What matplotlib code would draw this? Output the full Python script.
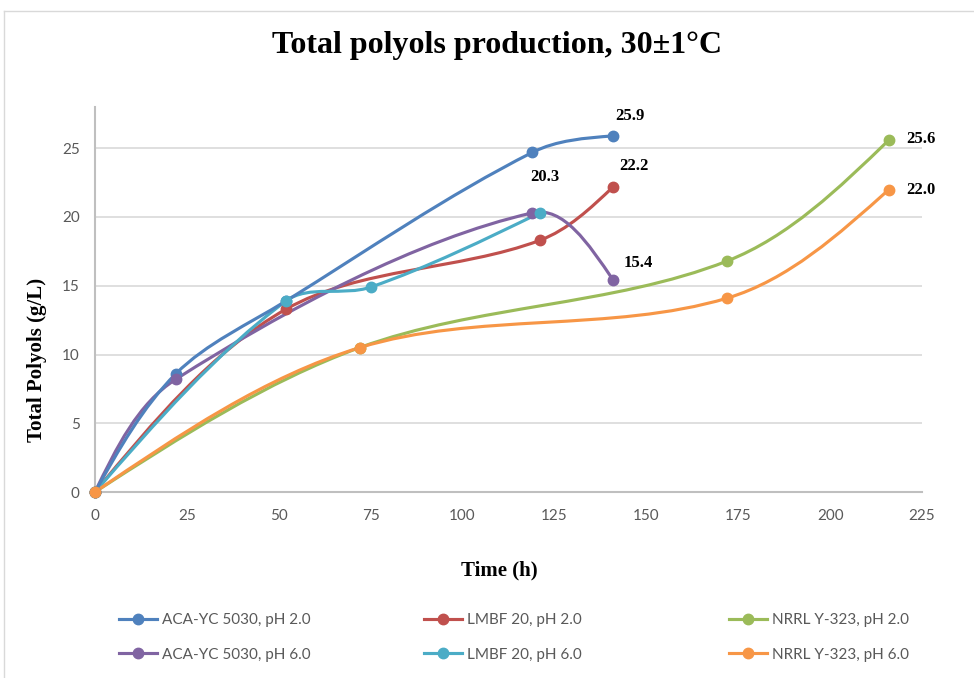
import numpy as np
import matplotlib.pyplot as plt
from matplotlib.path import Path
from matplotlib.patches import PathPatch
from matplotlib.lines import Line2D

# time (h) and total polyols (g/L) per culture
names = ['ACA-YC 5030, pH 2.0', 'LMBF 20, pH 2.0', 'NRRL Y-323, pH 2.0',
         'ACA-YC 5030, pH 6.0', 'LMBF 20, pH 6.0', 'NRRL Y-323, pH 6.0']
colors = ['#4F81BD', '#C0504D', '#9BBB59', '#8064A2', '#4BACC6', '#F79646']

aca2_t = [0, 22, 52, 119, 141]
aca2_y = [0, 8.6, 13.9, 24.7, 25.9]
lmbf2_t = [0, 52, 121, 141]
lmbf2_y = [0, 13.3, 18.3, 22.2]
nrrl2_t = [0, 72, 172, 216]
nrrl2_y = [0, 10.5, 16.8, 25.6]
aca6_t = [0, 22, 119, 141]
aca6_y = [0, 8.2, 20.3, 15.4]
lmbf6_t = [0, 52, 75, 121]
lmbf6_y = [0, 13.9, 14.9, 20.3]
nrrl6_t = [0, 72, 172, 216]
nrrl6_y = [0, 10.5, 14.1, 22.0]

series = [(aca2_t, aca2_y), (lmbf2_t, lmbf2_y), (nrrl2_t, nrrl2_y),
          (aca6_t, aca6_y), (lmbf6_t, lmbf6_y), (nrrl6_t, nrrl6_y)]

# which point gets a value label: (series index, point index, offset in px)
labels = [(0, 4, (2, 20)), (1, 3, (6, 21)), (3, 2, (-2, 36)),
          (3, 3, (10, 17)), (2, 3, (17, 1)), (5, 3, (17, 0))]

fig = plt.figure(figsize=(9.74, 6.78), dpi=100)
ax = fig.add_axes([95 / 974, 1 - 492 / 678, 827 / 974, 385 / 678])
ax.set_xlim(0, 225)
ax.set_ylim(0, 28)
ax.set_xticks(np.arange(0, 226, 25))
ax.set_yticks(np.arange(0, 26, 5))
ax.grid(axis='y', color='#D9D9D9', lw=1.2)
ax.set_axisbelow(True)
for s in ['top', 'right']:
    ax.spines[s].set_visible(False)
for s in ['left', 'bottom']:
    ax.spines[s].set_color('#BFBFBF')
    ax.spines[s].set_linewidth(1.5)
ax.tick_params(length=0, labelsize=11, labelcolor='#595959')
ax.tick_params(axis='y', pad=11)
ax.tick_params(axis='x', pad=12)
for lab in ax.get_xticklabels() + ax.get_yticklabels():
    lab.set_fontfamily('Lato')


def smooth_path(t, y):
    # Excel-like smoothed line: bezier segments built in screen space
    P = ax.transData.transform(np.column_stack([t, y]))
    n = len(P)
    d = np.linalg.norm(np.diff(P, axis=0), axis=1)
    arm_in = [None] * n
    arm_out = [None] * n
    for i in range(1, n - 1):
        T = P[i + 1] - P[i - 1]
        arm_out[i] = T * d[i] / (d[i - 1] + d[i]) / 3
        arm_in[i] = T * d[i - 1] / (d[i - 1] + d[i]) / 3
    verts = [P[0]]
    codes = [Path.MOVETO]
    for i in range(n - 1):
        c2 = P[i + 1] - arm_in[i + 1] if arm_in[i + 1] is not None else None
        c1 = P[i] + arm_out[i] if arm_out[i] is not None else None
        if c1 is None and c2 is None:
            c1 = P[i] + (P[i + 1] - P[i]) / 3
            c2 = P[i] + 2 * (P[i + 1] - P[i]) / 3
        elif c1 is None:
            c1 = P[i] + (c2 - P[i]) / 2
        elif c2 is None:
            c2 = P[i + 1] + (c1 - P[i + 1]) / 2
        verts += [c1, c2, P[i + 1]]
        codes += [Path.CURVE4] * 3
    verts = ax.transData.inverted().transform(np.array(verts))
    return Path(verts, codes)


for k, ((t, y), c) in enumerate(zip(series, colors)):
    zl = 3.9 if k == 0 else 3 + k * 0.1
    ax.add_patch(PathPatch(smooth_path(t, y), fill=False, edgecolor=c,
                           lw=2.25, capstyle='round', joinstyle='round', zorder=zl))
    ax.plot(t, y, 'o', color=c, ms=7.5, zorder=4 + k * 0.1, clip_on=False)

for si, pi, (dx, dy) in labels:
    t, y = series[si]
    ax.annotate('%.1f' % y[pi], (t[pi], y[pi]), xytext=(dx * 0.72, dy * 0.72),
                textcoords='offset points', ha='left', va='center',
                fontsize=12, fontweight='bold', family='Liberation Serif')

fig.text(497 / 974, 1 - 45 / 678, 'Total polyols production, 30±1°C',
         ha='center', va='center', fontsize=23, fontweight='bold',
         family='Liberation Serif')
fig.text(37 / 974, 1 - 360 / 678, 'Total Polyols (g/L)', rotation=90,
         ha='center', va='center', fontsize=15, fontweight='bold',
         family='Liberation Serif')
fig.text(499 / 974, 1 - 570 / 678, 'Time (h)', ha='center', va='center',
         fontsize=15, fontweight='bold', family='Liberation Serif')

# legend: three columns of two rows
col_x = [119, 424, 729]
for k in range(3):
    hs = []
    for j in (k, k + 3):
        hs.append(Line2D([], [], color=colors[j], lw=2.25, marker='o', ms=7.5))
    fig.legend(hs, [names[k], names[k + 3]], loc='upper left',
               bbox_to_anchor=(col_x[k] / 974, 1 - 613 / 678), frameon=False,
               handlelength=2.5, handletextpad=0.3, labelspacing=1.35,
               prop={'family': 'Lato', 'size': 11}, labelcolor='#595959',
               borderaxespad=0, borderpad=0)

# chart area border (only top and left visible in the crop)
fig.add_artist(Line2D([4 / 974, 4 / 974], [0, 1 - 11 / 678], color='#D9D9D9', lw=1))
fig.add_artist(Line2D([4 / 974, 1], [1 - 11 / 678, 1 - 11 / 678], color='#D9D9D9', lw=1))

fig.savefig('out.png', dpi=100)
